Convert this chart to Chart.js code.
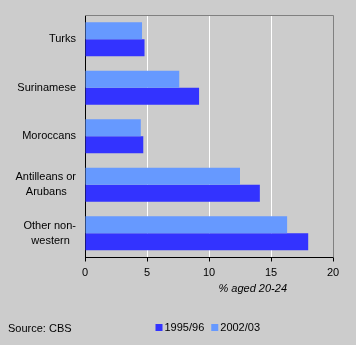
<!DOCTYPE html>
<html>
<head>
<meta charset="utf-8">
<script src="https://cdn.jsdelivr.net/npm/chart.js@4/dist/chart.umd.min.js"></script>
<style>
  html, body { margin: 0; padding: 0; background: #cccccc; }
  canvas { display: block; }
</style>
</head>
<body>
<canvas id="chart" width="356" height="345"></canvas>
<script>
// groups, top to bottom
const groups = ['Turks', 'Surinamese', 'Moroccans', ['Antilleans or', 'Arubans   '], ['Other non-', 'western  ']];
const series1995 = [4.8, 9.2, 4.7, 14.1, 18.0];
const series2002 = [4.6, 7.6, 4.5, 12.5, 16.3];
const xTicks = [0, 5, 10, 15, 20];
const axisTitle = '% aged 20-24';
const sourceText = 'Source: CBS';

const font = 'Liberation Sans, Arial, sans-serif';

// background, frame, legend and notes
const extras = {
  id: 'extras',
  beforeDraw(chart) {
    const c = chart.ctx;
    c.save();
    c.fillStyle = '#cccccc';
    c.fillRect(0, 0, chart.width, chart.height);
    c.restore();
  },
  beforeDatasetsDraw(chart) {
    const c = chart.ctx, a = chart.chartArea;
    c.save();
    c.strokeStyle = '#808080';
    c.lineWidth = 1;
    c.beginPath();
    c.moveTo(a.left, Math.round(a.top) + 0.5);
    c.lineTo(Math.round(a.right) + 0.5, Math.round(a.top) + 0.5);
    c.lineTo(Math.round(a.right) + 0.5, a.bottom);
    c.stroke();
    c.restore();
  },
  afterDraw(chart) {
    const c = chart.ctx, a = chart.chartArea;
    c.save();
    c.fillStyle = '#000';
    c.textBaseline = 'middle';

    c.font = 'italic 11px ' + font;
    c.textAlign = 'right';
    c.fillText(axisTitle, a.right - 46, 289);

    c.font = '11px ' + font;
    c.textAlign = 'left';
    c.fillText(sourceText, 8, 329);

    // legend, 1995/96 first
    let x = 155.5;
    const y = 327.5;
    [1, 0].forEach(i => {
      const ds = chart.data.datasets[i];
      c.fillStyle = ds.backgroundColor;
      c.fillRect(x, y - 3.5, 7, 7);
      c.fillStyle = '#000';
      c.fillText(ds.label, x + 9, y);
      x += 9 + c.measureText(ds.label).width + 7;
    });
    c.restore();
  }
};

new Chart(document.getElementById('chart'), {
  type: 'bar',
  data: {
    labels: groups,
    datasets: [
      { label: '2002/03', data: series2002, backgroundColor: '#6699ff' },
      { label: '1995/96', data: series1995, backgroundColor: '#3333ff' }
    ]
  },
  options: {
    indexAxis: 'y',
    responsive: false,
    animation: false,
    devicePixelRatio: 1,
    categoryPercentage: 0.7,
    barPercentage: 1.0,
    layout: { padding: { left: 0, top: 15, right: 23, bottom: 0 } },
    plugins: {
      legend: { display: false },
      tooltip: { enabled: false }
    },
    scales: {
      x: {
        min: 0,
        max: 20,
        afterBuildTicks: s => { s.ticks = xTicks.map(v => ({ value: v })); },
        afterFit: s => { s.height = 87.5; },
        border: { color: '#000', width: 1 },
        grid: {
          color: ctx => (ctx.tick && [5, 10, 15].includes(ctx.tick.value)) ? '#ffffff' : 'rgba(0,0,0,0)',
          tickColor: '#000',
          tickLength: 4,
          lineWidth: 1
        },
        ticks: { color: '#000', font: { family: font, size: 11 }, padding: 5, maxRotation: 0 }
      },
      y: {
        afterFit: s => { s.width = 85; s.paddingTop = 0; s.paddingBottom = 0; },
        border: { color: '#000', width: 1 },
        grid: { display: false, drawTicks: false },
        ticks: { color: '#000', font: { family: font, size: 11, lineHeight: 1.33 }, padding: 9 }
      }
    }
  },
  plugins: [extras]
});
</script>
</body>
</html>
